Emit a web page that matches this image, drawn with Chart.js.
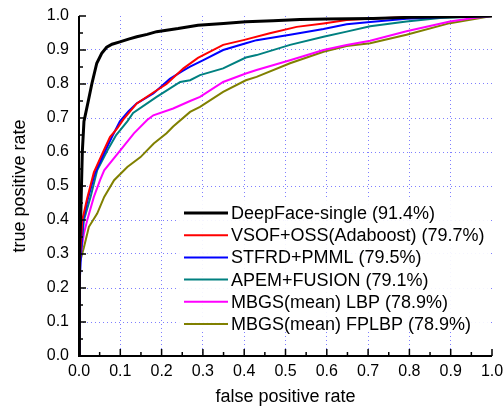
<!DOCTYPE html>
<html>
<head>
<meta charset="utf-8">
<script src="https://cdn.jsdelivr.net/npm/chart.js@4.4.1/dist/chart.umd.min.js"></script>
<style>
  html, body { margin: 0; padding: 0; background: #fff; }
  #wrap { width: 503px; height: 406px; }
</style>
</head>
<body>
<div id="wrap"><canvas id="roc"></canvas></div>
<script>
// roc curves (fpr -> tpr)
const seriesNames = [
  "DeepFace-single (91.4%)",
  "VSOF+OSS(Adaboost) (79.7%)",
  "STFRD+PMML (79.5%)",
  "APEM+FUSION (79.1%)",
  "MBGS(mean) LBP (78.9%)",
  "MBGS(mean) FPLBP (78.9%)"
];
const seriesColors = ["#000000", "#ff0000", "#0000ff", "#008080", "#ff00ff", "#808000"];

const deepFaceFpr = [0, 0.001, 0.004, 0.008, 0.012, 0.023, 0.031, 0.043, 0.055, 0.067, 0.08, 0.099, 0.12, 0.14, 0.165, 0.188, 0.24, 0.288, 0.35, 0.404, 0.47, 0.535, 0.6, 0.712, 0.8, 0.9, 1.0];
const deepFaceTpr = [0, 0.3, 0.4, 0.6, 0.69, 0.753, 0.8, 0.861, 0.89, 0.908, 0.917, 0.924, 0.932, 0.939, 0.946, 0.954, 0.963, 0.973, 0.978, 0.983, 0.986, 0.99, 0.991, 0.993, 0.996, 0.998, 1.0];

const vsofFpr = [0, 0, 0.003, 0.008, 0.02, 0.036, 0.06, 0.075, 0.093, 0.107, 0.14, 0.18, 0.212, 0.253, 0.288, 0.349, 0.398, 0.462, 0.527, 0.592, 0.648, 0.713, 0.8, 0.9, 1.0];
const vsofTpr = [0, 0.2, 0.3, 0.4, 0.465, 0.54, 0.605, 0.644, 0.67, 0.695, 0.743, 0.775, 0.8, 0.846, 0.877, 0.915, 0.929, 0.949, 0.968, 0.978, 0.988, 0.993, 0.997, 0.999, 1.0];

const stfrdFpr = [0, 0, 0.002, 0.005, 0.01, 0.022, 0.038, 0.062, 0.08, 0.099, 0.12, 0.14, 0.18, 0.22, 0.25, 0.269, 0.301, 0.349, 0.404, 0.43, 0.511, 0.592, 0.648, 0.705, 0.793, 0.874, 1.0];
const stfrdTpr = [0, 0.1, 0.2, 0.3, 0.4, 0.465, 0.535, 0.6, 0.645, 0.69, 0.72, 0.743, 0.772, 0.815, 0.838, 0.851, 0.87, 0.9, 0.92, 0.929, 0.945, 0.962, 0.976, 0.982, 0.992, 0.996, 1.0];

const apemFpr = [0, 0, 0.004, 0.012, 0.028, 0.044, 0.069, 0.09, 0.117, 0.131, 0.188, 0.245, 0.269, 0.293, 0.349, 0.404, 0.43, 0.511, 0.592, 0.648, 0.705, 0.793, 0.874, 1.0];
const apemTpr = [0, 0.26, 0.3, 0.4, 0.468, 0.546, 0.605, 0.65, 0.69, 0.715, 0.762, 0.806, 0.811, 0.826, 0.846, 0.878, 0.885, 0.915, 0.939, 0.954, 0.97, 0.984, 0.994, 1.0];

const lbpFpr = [0, 0, 0.002, 0.008, 0.012, 0.02, 0.036, 0.051, 0.061, 0.1, 0.133, 0.165, 0.18, 0.228, 0.269, 0.293, 0.349, 0.404, 0.43, 0.511, 0.592, 0.648, 0.705, 0.793, 0.898, 0.955, 1.0];
const lbpTpr = [0, 0.222, 0.28, 0.33, 0.36, 0.4, 0.468, 0.517, 0.546, 0.605, 0.655, 0.694, 0.708, 0.728, 0.75, 0.762, 0.806, 0.831, 0.841, 0.87, 0.9, 0.915, 0.927, 0.955, 0.984, 0.994, 1.0];

const fplbpFpr = [0, 0, 0.002, 0.012, 0.024, 0.044, 0.061, 0.085, 0.117, 0.149, 0.181, 0.212, 0.228, 0.269, 0.293, 0.349, 0.404, 0.43, 0.511, 0.592, 0.648, 0.705, 0.793, 0.898, 1.0];
const fplbpTpr = [0, 0.183, 0.27, 0.32, 0.38, 0.419, 0.468, 0.517, 0.556, 0.585, 0.625, 0.655, 0.675, 0.718, 0.733, 0.777, 0.811, 0.821, 0.861, 0.895, 0.912, 0.92, 0.945, 0.979, 1.0];

const allFpr = [deepFaceFpr, vsofFpr, stfrdFpr, apemFpr, lbpFpr, fplbpFpr];
const allTpr = [deepFaceTpr, vsofTpr, stfrdTpr, apemTpr, lbpTpr, fplbpTpr];

const FONT = "'Liberation Sans', Arial, sans-serif";

function toPoints(xs, ys) {
  return xs.map((x, i) => ({ x: x, y: ys[i] }));
}

const datasets = seriesNames.map((name, i) => ({
  label: name,
  data: toPoints(allFpr[i], allTpr[i]),
  borderColor: seriesColors[i],
  backgroundColor: seriesColors[i],
  borderWidth: i === 0 ? 3 : 2,
  pointRadius: 0,
  showLine: true,
  tension: 0,
  fill: false
}));

// inward ticks, axis lines and the boxed legend inside the plot
const frame = {
  id: "frame",
  afterDatasetsDraw(chart) {
    const ctx = chart.ctx;
    const xs = chart.scales.x, ys = chart.scales.y;
    const a = chart.chartArea;
    ctx.save();

    // legend
    const rowY0 = 213, rowH = 22.2;
    ctx.fillStyle = "rgba(255,255,255,0.92)";
    ctx.fillRect(177, 200, a.right - 177 - 2, 131);
    ctx.font = "18px " + FONT;
    ctx.textBaseline = "middle";
    chart.data.datasets.forEach((ds, i) => {
      const y = rowY0 + i * rowH;
      ctx.strokeStyle = ds.borderColor;
      ctx.lineWidth = ds.borderWidth;
      ctx.beginPath();
      ctx.moveTo(184, y);
      ctx.lineTo(228, y);
      ctx.stroke();
      ctx.fillStyle = "#000";
      ctx.fillText(ds.label, 231, y + 1);
    });

    // axes
    ctx.strokeStyle = "#000";
    ctx.lineWidth = 2;
    ctx.beginPath();
    ctx.moveTo(a.left, a.top);
    ctx.lineTo(a.left, a.bottom);
    ctx.lineTo(a.right, a.bottom);
    ctx.stroke();

    ctx.lineWidth = 1.5;
    for (let i = 0; i <= 20; i++) {
      const v = i / 20;
      const len = i % 2 === 0 ? 7 : 4;
      const px = xs.getPixelForValue(v);
      const py = ys.getPixelForValue(v);
      ctx.beginPath();
      ctx.moveTo(px, a.bottom);
      ctx.lineTo(px, a.bottom - len);
      ctx.moveTo(a.left, py);
      ctx.lineTo(a.left + len, py);
      ctx.stroke();
    }
    ctx.restore();
  }
};

function gridColor(c) {
  const v = c.tick ? c.tick.value : 0;
  return (v < 0.01 || v > 0.99) ? "rgba(0,0,0,0)" : "#7f7fff";
}

new Chart(document.getElementById("roc"), {
  type: "scatter",
  data: { datasets },
  options: {
    responsive: true,
    maintainAspectRatio: false,
    animation: false,
    layout: { padding: { top: 16, right: 11, left: 0, bottom: 0 } },
    plugins: {
      legend: { display: false },
      tooltip: { enabled: false }
    },
    scales: {
      x: {
        type: "linear",
        min: 0,
        max: 1,
        afterFit(s) { s.height = 50; s.paddingLeft = 0; s.paddingRight = 0; },
        border: { display: false, dash: [1, 3] },
        grid: { color: gridColor, lineWidth: 1, drawTicks: false },
        ticks: {
          stepSize: 0.1,
          padding: 6,
          color: "#000",
          font: { family: FONT, size: 16 },
          maxRotation: 0,
          callback: v => v.toFixed(1)
        },
        title: {
          display: true,
          text: "false positive rate",
          color: "#000",
          font: { family: FONT, size: 18 },
          padding: { top: 0, bottom: -2 }
        }
      },
      y: {
        type: "linear",
        min: 0,
        max: 1,
        afterFit(s) { s.width = 79; s.paddingTop = 0; s.paddingBottom = 0; },
        border: { display: false, dash: [1, 3] },
        grid: { color: gridColor, lineWidth: 1, drawTicks: false },
        ticks: {
          stepSize: 0.1,
          padding: 10,
          color: "#000",
          font: { family: FONT, size: 16 },
          callback: v => v.toFixed(1)
        },
        title: {
          display: true,
          text: "true positive rate",
          color: "#000",
          font: { family: FONT, size: 18 },
          padding: { top: 9, bottom: 0 }
        }
      }
    }
  },
  plugins: [frame]
});
</script>
</body>
</html>
